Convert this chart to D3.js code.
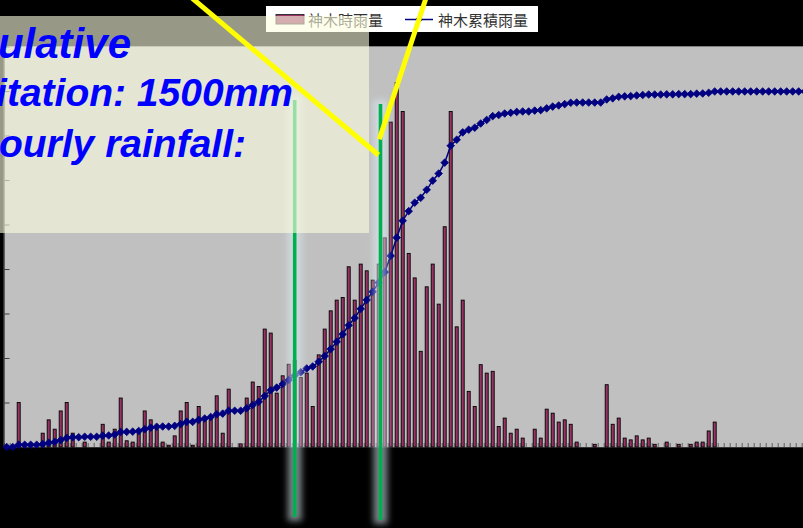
<!DOCTYPE html>
<html><head><meta charset="utf-8">
<script src="https://cdn.jsdelivr.net/npm/d3@7/dist/d3.min.js"></script>
<style>html,body{margin:0;padding:0;background:#000;overflow:hidden}svg{display:block}</style>
</head><body><svg id="c" width="803" height="528"></svg>
<script>
// ---- data ----
const hours = Array.from({length: 134}, (_, i) => i + 1);
const hourly = [
  0, 0, 10.0, 0, 0, 0, 3.1, 6.1, 4.0, 8.1,
  10.0, 3.1, 0, 1.1, 0, 0, 5.1, 1.1, 4.0, 11.0,
  1.4, 1.1, 3.1, 8.1, 6.1, 4.0, 1.1, 0.4, 2.5, 8.1,
  10.0, 0.4, 9.1, 6.1, 6.8, 11.5, 3.1, 13.0, 0, 0.7,
  11.0, 14.6, 13.6, 26.5, 25.6, 12.1, 16.0, 18.6, 19.5, 15.6,
  16.6, 9.1, 20.7, 26.5, 30.6, 33.0, 33.6, 40.5, 33.0, 41.1,
  39.6, 37.5, 41.1, 47.0, 73.0, 81.9, 75.4, 43.5, 38.0, 21.5,
  36.0, 41.1, 32.1, 49.5, 75.4, 27.0, 33.0, 12.5, 9.1, 18.5,
  16.6, 17.0, 4.6, 6.5, 3.1, 4.0, 2.0, 0, 4.0, 2.0,
  8.5, 7.6, 5.6, 6.1, 5.1, 1.1, 0, 0, 0.6, 0,
  14.0, 5.1, 6.5, 2.0, 1.6, 2.5, 1.6, 2.0, 0.6, 0,
  1.1, 0, 0.6, 0, 0.6, 1.1, 1.1, 3.6, 5.6, 0,
  0, 0, 0, 0, 0, 0, 0, 0, 0, 0,
  0, 0, 0, 0
];
const cumulative = [
  0, 0, 10, 10, 10, 10, 13, 19, 23, 31,
  41, 44, 44, 46, 46, 46, 51, 52, 56, 67,
  68, 69, 72, 80, 87, 91, 92, 92, 95, 103,
  113, 113, 122, 128, 135, 147, 150, 163, 163, 163,
  174, 189, 203, 229, 255, 267, 283, 301, 321, 336,
  353, 362, 383, 409, 440, 473, 507, 547, 580, 621,
  661, 698, 739, 786, 859, 941, 1017, 1060, 1098, 1120,
  1156, 1197, 1229, 1278, 1354, 1381, 1414, 1426, 1435, 1454,
  1470, 1487, 1492, 1499, 1502, 1506, 1508, 1508, 1512, 1514,
  1522, 1530, 1535, 1541, 1547, 1548, 1548, 1548, 1548, 1548,
  1562, 1567, 1574, 1576, 1577, 1580, 1582, 1584, 1584, 1584,
  1585, 1585, 1586, 1586, 1586, 1588, 1589, 1592, 1598, 1598,
  1598, 1598, 1598, 1598, 1598, 1598, 1598, 1598, 1598, 1598,
  1598, 1598, 1598, 1598
];
const hourlyTicks = [0, 10, 20, 30, 40, 50, 60, 70, 80, 90];
const hourlyMax = 90;
const cumulativeMax = 1800;
const seriesNames = ["神木時雨量", "神木累積雨量"];
const noteLines = ["Cumulative", "precipitation: 1500mm", "Max hourly rainfall:"];
const markedHours = [49, 63.3];   // green highlight lines (hour positions)

// ---- drawing ----
const W = 803, H = 528;
const svg = d3.select("#c");
const defs = svg.append("defs");
const blur = defs.append("filter").attr("id", "glow").attr("x", "-100%").attr("y", "-10%").attr("width", "300%").attr("height", "120%");
blur.append("feGaussianBlur").attr("stdDeviation", 3);

svg.append("rect").attr("width", W).attr("height", H).attr("fill", "#000");

const pTop = 46.5, pBottom = 447, pLeft = 3.5;
const x = d3.scaleBand().domain(hours).range([3.7, 3.7 + 6 * hours.length]).paddingInner(0.5).paddingOuter(0.25);
const xc = d => x(d) + x.bandwidth() / 2;
const xLin = d3.scaleLinear().domain([1, 2]).range([xc(1), xc(2)]);
const xEdge = d3.scaleLinear().domain([0, hours.length]).range([3.7, 3.7 + 6 * hours.length]);
const yH = d3.scaleLinear().domain([0, hourlyMax]).range([pBottom, pTop]);
const yC = d3.scaleLinear().domain([0, cumulativeMax]).range([pBottom, pTop]);

// plot area
svg.append("rect").attr("x", pLeft).attr("y", pTop).attr("width", 820).attr("height", pBottom - pTop).attr("fill", "#c0c0c0");
svg.append("line").attr("x1", pLeft).attr("x2", 820).attr("y1", pTop).attr("y2", pTop).attr("stroke", "#808080").attr("stroke-width", 1);

// bottom ticks (inside, at category boundaries)
const ax = svg.append("g").attr("transform", `translate(0,${pBottom})`)
  .call(d3.axisTop(xEdge).tickValues(d3.range(0, hours.length + 1)).tickSize(4).tickSizeOuter(0).tickFormat(""));
ax.selectAll(".tick line").attr("stroke", "#606060");
ax.select(".domain").attr("stroke", "#333");

// left ticks
const ay = svg.append("g").attr("transform", `translate(${pLeft},0)`)
  .call(d3.axisRight(yH).tickValues(hourlyTicks).tickSize(6).tickSizeOuter(0).tickFormat(""));
ay.selectAll(".tick line").attr("stroke", "#404040");
ay.select(".domain").attr("stroke", "#000");

// bars
svg.append("g").selectAll("rect").data(hours.filter((h, i) => hourly[i] > 0)).join("rect")
  .attr("x", d => x(d)).attr("width", x.bandwidth())
  .attr("y", d => yH(hourly[d - 1])).attr("height", d => pBottom - yH(hourly[d - 1]))
  .attr("fill", "#993366").attr("stroke", "#000").attr("stroke-width", 0.9);

// cumulative line
const line = d3.line().x(d => xc(d)).y(d => yC(cumulative[d - 1]));
svg.append("path").datum(hours).attr("d", line).attr("fill", "none").attr("stroke", "#000080").attr("stroke-width", 1.5);
const diamond = "M0,-3.8L3.8,0L0,3.8L-3.8,0Z";
svg.append("g").selectAll("path").data(hours).join("path")
  .attr("transform", d => `translate(${xc(d)},${yC(cumulative[d - 1])})`)
  .attr("d", diamond).attr("fill", "#000080").attr("stroke", "#000080").attr("stroke-width", 0.8);

// legend
const lg = svg.append("g");
lg.append("rect").attr("x", 266).attr("y", 6).attr("width", 272).attr("height", 26).attr("fill", "#fff");
lg.append("rect").attr("x", 276).attr("y", 14.5).attr("width", 28).attr("height", 9.5).attr("fill", "#993366").attr("stroke", "#333").attr("stroke-width", 1);
lg.append("text").attr("x", 308).attr("y", 26).text(seriesNames[0]);
lg.append("line").attr("x1", 405).attr("x2", 433).attr("y1", 19.5).attr("y2", 19.5).attr("stroke", "#000080").attr("stroke-width", 1.5);
lg.append("path").attr("transform", "translate(419,19.5)").attr("d", diamond).attr("fill", "#000080");
lg.append("text").attr("x", 438).attr("y", 26).text(seriesNames[1]);
lg.selectAll("text").attr("font-family", "'Noto Sans CJK TC','Noto Sans CJK SC',sans-serif").attr("font-size", 15).attr("fill", "#333");

// green highlight lines with glow
const greens = [{h: markedHours[0], y1: 100, y2: 517}, {h: markedHours[1], y1: 104, y2: 520}];
const gg = svg.append("g");
greens.forEach(g => {
  const cx = xLin(g.h);
  gg.append("rect").attr("x", cx - 7).attr("width", 14).attr("y", g.y1 - 4).attr("height", g.y2 - g.y1 + 8)
    .attr("fill", "#dceef6").attr("opacity", 0.55).attr("filter", "url(#glow)");
  gg.append("rect").attr("x", cx - 1.8).attr("width", 3.6).attr("y", g.y1).attr("height", g.y2 - g.y1).attr("fill", "#00b050");
});

// translucent note box
svg.append("rect").attr("x", 0).attr("y", 16).attr("width", 369).attr("height", 217).attr("fill", "#fdfde0").attr("opacity", 0.6);
const noteStyle = [{x: 131, y: 58, size: 42}, {x: 293, y: 106, size: 39}, {x: 246, y: 157, size: 39}];
svg.append("g").selectAll("text").data(noteLines).join("text")
  .attr("x", (d, i) => noteStyle[i].x).attr("y", (d, i) => noteStyle[i].y)
  .attr("font-size", (d, i) => noteStyle[i].size)
  .attr("text-anchor", "end").attr("font-family", "'Liberation Sans',Arial,sans-serif")
  .attr("font-weight", "bold").attr("font-style", "italic").attr("fill", "#0000ff")
  .text(d => d);

// yellow pointer lines
const yl = svg.append("g").attr("stroke", "#ffff00").attr("stroke-width", 5).attr("fill", "none");
yl.append("line").attr("x1", 186).attr("y1", -7).attr("x2", 378.5).attr("y2", 155);
yl.append("line").attr("x1", 428).attr("y1", -8).attr("x2", 379.3).attr("y2", 139.3);
</script></body></html>
